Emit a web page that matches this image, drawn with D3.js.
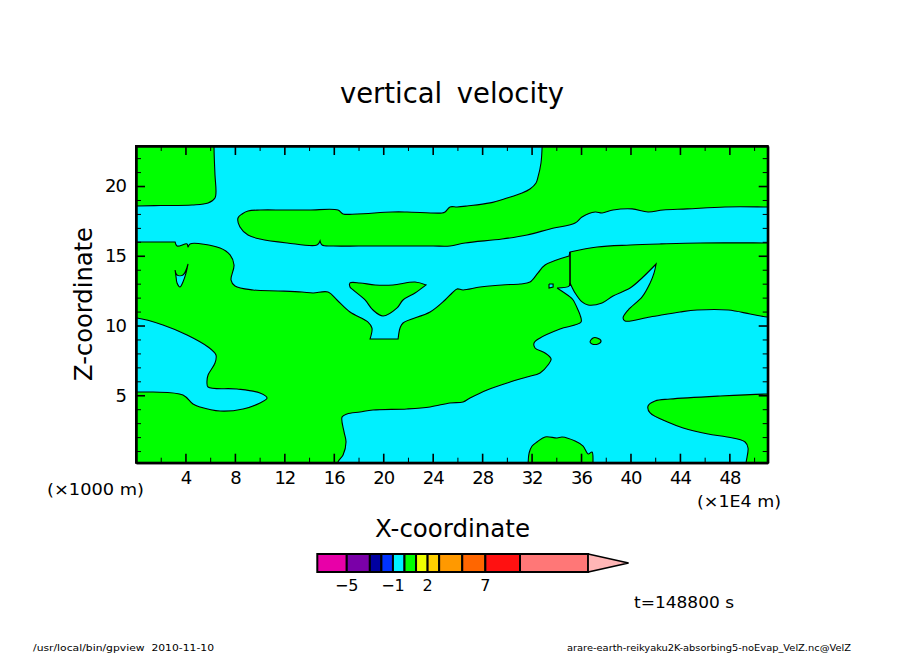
<!DOCTYPE html>
<html lang="en">

<head>
    <meta charset="UTF-8">
    <script src="https://d3js.org/d3.v7.min.js"></script>
    <style>
        body { margin: 0; background: #fff; }
        svg { display: block; }
        text { font-family: "DejaVu Sans", sans-serif; fill: #000; }
        .axis path { stroke: #000; stroke-width: 2; }
        .axis text { font-family: "DejaVu Sans", sans-serif; font-size: 18px; letter-spacing: -1px; }
    </style>
</head>

<body>

    <script>

        // contour regions above the level, [x, z]
        // points past the frame get clipped, a repeated point is a sharp corner
        const upperBand = [[.08,18.57],[2,18.6],[4.53,18.64],[5.83,18.78],[6.39,19.14],[6.47,19.57],[6.39,20.79],[6.31,22.8],[6.31,23.3],[6.31,23.3],[32.85,23.3],[32.85,23.3],[32.85,22.8],[32.76,21.65],[32.52,20.65],[32.36,20.22],[31.87,19.79],[31.23,19.5],[30.01,19.14],[28.64,18.79],[26.78,18.57],[25.97,18.5],[25.4,18.5],[25,18.14],[24.76,18.07],[21.92,18.14],[20.71,18.14],[17.88,18],[16.75,18],[16.34,18.28],[14,18.28],[12,18.28],[10.03,18.28],[9.06,18.21],[8.58,18],[8.25,17.71],[8.41,17.06],[9.06,16.49],[10.03,16.2],[12.22,15.92],[14.64,15.77],[14.89,16.06],[14.89,16.06],[15.05,15.77],[15.94,15.7],[18,15.7],[20,15.7],[22,15.7],[24.03,15.7],[25.4,15.7],[26.62,15.92],[29.61,16.2],[31.63,16.49],[33.5,16.92],[35.52,17.35],[36.08,17.78],[37.14,18.14],[37.7,18.07],[38.59,18.28],[40.13,18.36],[41.42,18.14],[42.64,18.28],[44.58,18.36],[47.65,18.5],[51.05,18.5],[51.7,18.5],[51.7,18.5],[51.7,15.92],[51.7,15.92],[51.05,15.92],[45.63,15.92],[42.48,15.85],[39.97,15.77],[37.3,15.63],[35.11,15.27],[35.11,15.27],[35.03,14.99],[35.03,14.99],[33.09,14.34],[32.52,13.77],[31.87,13.12],[31.07,12.98],[29.61,12.91],[27.83,12.76],[26.46,12.55],[25.97,12.62],[25.57,12.33],[25,11.83],[23.79,10.97],[21.6,10.18],[21.36,9.82],[21.2,9.03],[21.2,9.03],[18.93,9.03],[18.93,9.03],[19.09,9.82],[18.77,10.25],[17.31,10.97],[16.26,11.83],[15.53,12.4],[14.32,12.33],[13.43,12.4],[11.5,12.48],[9.47,12.55],[8.01,12.83],[7.69,13.26],[7.93,14.34],[7.61,15.06],[6.8,15.56],[4.37,15.85],[4.21,15.63],[4.13,15.85],[3.32,15.7],[3.16,15.99],[3.16,15.99],[1.5,15.99],[.08,15.99],[-.49,15.99],[-.49,15.99],[-.49,18.57],[-.49,18.57]];
        const lowerBasin = [[34.06,12.69],[34.06,12.69],[35.03,12.83],[35.11,13.05],[35.11,13.05],[35.52,12.33],[36.08,11.69],[36.57,11.47],[37.7,11.62],[38.59,12.12],[39.97,12.69],[41.02,13.48],[42.07,14.41],[42.07,14.41],[41.91,13.77],[41.59,13.05],[40.94,12.05],[39.81,11.11],[39.4,10.54],[39.56,10.32],[41.59,10.61],[44.01,10.97],[45.39,11.11],[47.9,11.11],[49.68,10.83],[51.05,10.61],[51.7,10.61],[51.7,10.61],[51.7,5.09],[51.7,5.09],[51.05,5.09],[47.25,4.95],[43.2,4.73],[41.99,4.59],[41.42,4.23],[41.59,3.73],[43.2,3.01],[44.26,2.65],[46.28,2.22],[47.82,2.01],[49.27,1.65],[49.51,1.22],[49.35,.14],[49.35,-.5],[49.35,-.5],[36.97,-.5],[36.97,-.5],[36.97,.14],[36.89,.93],[36.57,.79],[36.17,1.36],[35.52,1.72],[34.47,2.01],[34.06,1.94],[33.09,2.01],[32.44,1.65],[32.04,1.36],[31.8,.86],[31.72,.14],[31.72,-.5],[31.72,-.5],[16.34,-.5],[16.34,-.5],[16.34,.22],[16.75,.72],[16.99,1.65],[16.83,2.37],[16.67,3.44],[17.07,3.66],[18.12,3.8],[19.17,3.94],[21.92,4.02],[23.79,4.16],[25.4,4.45],[26.46,4.52],[27.02,4.8],[28.4,5.38],[30.26,5.95],[31.63,6.31],[32.69,6.6],[33.33,7.17],[33.58,7.6],[33.09,8.03],[32.28,8.39],[32.2,8.75],[32.69,9.11],[34.3,9.75],[36,10.25],[35.92,10.76],[35.76,11.11],[35.36,11.83],[35.11,12.05]];
        const leftPool = [[.08,10.54],[2.18,10.04],[4.13,9.32],[5.83,8.46],[6.47,7.89],[6.39,7.31],[5.83,6.45],[5.74,5.95],[5.83,5.59],[8.17,5.45],[10.03,5.16],[10.6,4.8],[10.03,4.45],[8.66,4.02],[6.8,3.87],[5.18,4.16],[4.61,4.37],[3.8,5.02],[1.38,5.23],[.08,5.23],[-.49,5.23],[-.49,5.23],[-.49,10.54],[-.49,10.54]];
        const smallNotch = [[3.16,13.98],[3.16,13.98],[3.32,13.62],[3.8,13.62],[4.21,14.41],[4.21,14.41],[4.05,13.77],[3.8,13.12],[3.56,12.76],[3.32,13.05],[3.24,13.48]];
        const smallSquare = [[33.41,12.98],[33.41,12.98],[33.74,12.98],[33.74,12.98],[33.74,12.76],[33.74,12.76],[33.41,12.69],[33.41,12.69]];

        // closed contours below the level, sitting inside the regions above
        const midTriangle = [[17.31,13.05],[18.12,13.05],[19.34,12.91],[20.79,12.91],[22.57,13.12],[23.47,12.91],[23.47,12.91],[22.57,12.33],[21.6,11.83],[21.12,11.26],[19.98,10.68],[19.17,11.11],[18.53,11.83],[17.56,12.55],[17.31,12.76]];
        const smallEllipse = [[36.73,8.82],[36.97,9.11],[37.3,9.11],[37.62,8.89],[37.38,8.68],[36.89,8.68]];

        // the straight piece of contour between the two regions
        const seamLine = [[35.11,15.27],[35.11,12.83]];

        const xMajorTicks = [4, 8, 12, 16, 20, 24, 28, 32, 36, 40, 44, 48];
        const xMinorTicks = [2, 6, 10, 14, 18, 22, 26, 30, 34, 38, 42, 46, 50];
        const zMajorTicks = [5, 10, 15, 20];
        const zMinorTicks = [1, 2, 3, 4, 6, 7, 8, 9, 11, 12, 13, 14, 16, 17, 18, 19, 21, 22];

        // color bar
        const barLevels = [-7.55, -5, -3, -2, -1, 0, 1, 2, 3, 5, 7, 10, 15.9];
        const barColors = ["#e800a8", "#7a00a8", "#0000a0", "#0033ff", "#00f0ff", "#00ff00", "#eeff00", "#ffd000", "#ff9900", "#ff6600", "#ff1111", "#ff7777"];
        const barTipLevel = 19.4;
        const barTipColor = "#ffb6b6";
        const barLabels = [-5, -1, 2, 7];

        const green = "#00ff00";
        const cyan = "#00f0ff";

        const width = 904;
        const height = 654;

        const svg = d3.select("body").append("svg")
            .attr("width", width)
            .attr("height", height);

        const xScale = d3.scaleLinear().domain([0, 51.1]).range([136, 767.7]);
        const zScale = d3.scaleLinear().domain([0.165, 22.87]).range([462.7, 146]);
        const barScale = d3.scaleLinear().domain([0, 10]).range([404.5, 520]);

        svg.append("clipPath").attr("id", "plot-clip")
            .append("rect")
            .attr("x", xScale.range()[0])
            .attr("y", zScale.range()[1])
            .attr("width", xScale.range()[1] - xScale.range()[0])
            .attr("height", zScale.range()[0] - zScale.range()[1]);

        const plot = svg.append("g").attr("clip-path", "url(#plot-clip)");

        plot.append("rect")
            .attr("x", xScale.range()[0])
            .attr("y", zScale.range()[1])
            .attr("width", xScale.range()[1] - xScale.range()[0])
            .attr("height", zScale.range()[0] - zScale.range()[1])
            .attr("fill", green);

        const contour = d3.line().x(d => xScale(d[0])).y(d => zScale(d[1]))
            .curve(d3.curveCatmullRomClosed.alpha(0.5));
        const straight = d3.line().x(d => xScale(d[0])).y(d => zScale(d[1]));
        const regions = [
            [upperBand, cyan], [lowerBasin, cyan], [leftPool, cyan], [smallNotch, cyan], [smallSquare, cyan],
            [midTriangle, green], [smallEllipse, green]
        ];

        plot.selectAll("path.region")
            .data(regions)
            .enter().append("path")
            .attr("class", "region")
            .attr("d", d => contour(d[0]))
            .attr("fill", d => d[1])
            .attr("stroke", "#000")
            .attr("stroke-width", 1.1);

        plot.append("path")
            .attr("d", straight(seamLine))
            .attr("fill", "none")
            .attr("stroke", "#000")
            .attr("stroke-width", 1.6);

        // Axes, ticks point inward
        function drawAxis(axisFn, scale, ticks, size, labels, transform, tickWidth, padding) {
            const axis = axisFn(scale).tickValues(ticks).tickSizeOuter(0).tickSizeInner(-size).tickPadding(padding);
            if (!labels) axis.tickFormat("");
            const g = svg.append("g").attr("class", "axis").attr("transform", transform).call(axis);
            g.selectAll(".tick line").attr("stroke", "#000").attr("stroke-width", tickWidth);
            return g;
        }

        const xBottom = `translate(0,${zScale.range()[0]})`;
        const xTop = `translate(0,${zScale.range()[1]})`;
        const zLeft = `translate(${xScale.range()[0]},0)`;
        const zRight = `translate(${xScale.range()[1]},0)`;

        drawAxis(d3.axisBottom, xScale, xMinorTicks, 5, false, xBottom, 1, 0);
        drawAxis(d3.axisTop, xScale, xMinorTicks, 5, false, xTop, 1, 0);
        drawAxis(d3.axisLeft, zScale, zMinorTicks, 5, false, zLeft, 1, 0);
        drawAxis(d3.axisRight, zScale, zMinorTicks, 5, false, zRight, 1, 0);
        drawAxis(d3.axisBottom, xScale, xMajorTicks, 9, true, xBottom, 1.6, 9);
        drawAxis(d3.axisTop, xScale, xMajorTicks, 9, false, xTop, 1.6, 0);
        drawAxis(d3.axisLeft, zScale, zMajorTicks, 9, true, zLeft, 1.6, 10);
        drawAxis(d3.axisRight, zScale, zMajorTicks, 9, false, zRight, 1.6, 0);

        svg.append("rect")
            .attr("x", xScale.range()[0])
            .attr("y", zScale.range()[1])
            .attr("width", xScale.range()[1] - xScale.range()[0])
            .attr("height", zScale.range()[0] - zScale.range()[1])
            .attr("fill", "none")
            .attr("stroke", "#000")
            .attr("stroke-width", 2);

        // Color bar
        svg.selectAll("rect.bar")
            .data(barColors)
            .enter().append("rect")
            .attr("class", "bar")
            .attr("x", (d, i) => barScale(barLevels[i]))
            .attr("y", 554)
            .attr("width", (d, i) => barScale(barLevels[i + 1]) - barScale(barLevels[i]))
            .attr("height", 18)
            .attr("fill", d => d)
            .attr("stroke", "#000")
            .attr("stroke-width", 2);

        const tipX = barScale(barLevels[barLevels.length - 1]);
        svg.append("path")
            .attr("d", `M${tipX},554L${barScale(barTipLevel)},563L${tipX},572Z`)
            .attr("fill", barTipColor)
            .attr("stroke", "#000")
            .attr("stroke-width", 1.5);

        svg.selectAll("text.bar-label")
            .data(barLabels)
            .enter().append("text")
            .attr("class", "bar-label")
            .attr("x", d => barScale(d))
            .attr("y", 591)
            .attr("text-anchor", "middle")
            .style("font-size", "16px")
            .text(d => d < 0 ? "\u2212" + Math.abs(d) : d);

        // Titles and notes, stretched to the widths of the original lettering
        function label(text, x, y, size, length) {
            return svg.append("text")
                .attr("x", x)
                .attr("y", y)
                .attr("textLength", length)
                .attr("lengthAdjust", "spacingAndGlyphs")
                .style("font-size", size + "px")
                .text(text);
        }

        label("vertical velocity", 340, 103, 28, 224).style("word-spacing", "6px");
        label("X-coordinate", 375, 537, 24, 155);
        label("Z-coordinate", 0, 0, 24, 154)
            .attr("transform", "translate(92,381) rotate(-90)");
        label("(\u00d71000 m)", 47, 495, 15, 97);
        label("(\u00d71E4 m)", 697, 507, 15, 84);
        label("t=148800 s", 634, 608, 15, 100);
        label("/usr/local/bin/gpview  2010-11-10", 33, 651, 9, 181).attr("xml:space", "preserve");
        label("arare-earth-reikyaku2K-absorbing5-noEvap_VelZ.nc@VelZ", 567, 651, 9, 284);

    </script>
</body>

</html>
